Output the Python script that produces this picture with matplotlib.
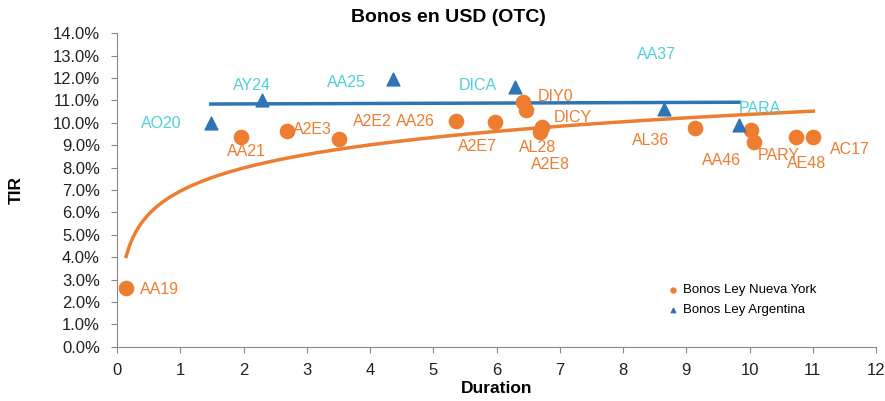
import numpy as np
import matplotlib
matplotlib.use("Agg")
import matplotlib.pyplot as plt
from matplotlib.ticker import FuncFormatter

plt.rcParams["font.family"] = ["Liberation Sans", "DejaVu Sans"]

# Bonos Ley Nueva York (duration, TIR %)
ny_names = ["AA19", "AA21", "A2E3", "A2E2", "AA26", "A2E7", "DIY0", "DICY",
            "AL28", "A2E8", "AL36", "AA46", "PARY", "AE48", "AC17"]
ny_dur = [0.14, 1.96, 2.69, 3.51, 5.36, 5.98, 6.42, 6.46, 6.72, 6.69,
          9.13, 10.02, 10.07, 10.73, 11.01]
ny_tir = [2.62, 9.38, 9.65, 9.29, 10.07, 10.05, 10.93, 10.57, 9.80, 9.61,
          9.78, 9.70, 9.15, 9.37, 9.37]

# Bonos Ley Argentina
ar_names = ["AO20", "AY24", "AA25", "DICA", "AA37", "PARA"]
ar_dur = [1.48, 2.29, 4.36, 6.29, 8.64, 9.84]
ar_tir = [10.00, 11.02, 11.95, 11.61, 10.60, 9.90]
# trend line of the Argentina bonds (start / end values)
ar_trend = [10.84, 10.92]

# label placement (data coords)
ny_label_pos = [(0.66, 2.56), (2.05, 8.71), (3.09, 9.71), (4.03, 10.08),
                (4.71, 10.08), (5.69, 8.93), (6.93, 11.17), (7.21, 10.23),
                (6.65, 8.91), (6.85, 8.12), (8.43, 9.23), (9.55, 8.31),
                (10.47, 8.56), (10.90, 8.19), (11.58, 8.82)]
ar_label_pos = [(0.69, 9.98), (2.13, 11.66), (3.63, 11.79), (5.70, 11.66),
                (8.53, 13.03), (10.17, 10.65)]

orange = "#ED7D31"
blue = "#2E75B6"
cyan = "#4FD0D8"

fig = plt.figure(figsize=(8.85, 4.01), dpi=100)
ax = fig.add_axes([0.1325, 0.1354, 0.8573, 0.7816])

ax.scatter(ny_dur, ny_tir, s=105, color=orange, marker="o", zorder=3,
           label="Bonos Ley Nueva York")
ax.scatter(ar_dur, ar_tir, s=85, color=blue, marker="^", zorder=3,
           label="Bonos Ley Argentina")

# logarithmic trend for NY bonds
b, a = np.polyfit(np.log(ny_dur), ny_tir, 1)
xs = np.linspace(min(ny_dur), max(ny_dur), 200)
ax.plot(xs, a + b * np.log(xs), color=orange, lw=2.5, zorder=2)
ax.plot([min(ar_dur), max(ar_dur)], ar_trend, color=blue, lw=2.5, zorder=2)

for n, (x, y) in zip(ny_names, ny_label_pos):
    ax.text(x, y, n, color=orange, fontsize=11.5, ha="center", va="center")
for n, (x, y) in zip(ar_names, ar_label_pos):
    ax.text(x, y, n, color=cyan, fontsize=11.5, ha="center", va="center")

ax.set_xlim(0, 12)
ax.set_ylim(0, 14)
ax.set_xticks(range(0, 13))
ax.set_yticks(range(0, 15))
ax.yaxis.set_major_formatter(FuncFormatter(lambda v, p: f"{v:.1f}%"))
ax.tick_params(labelsize=12, labelcolor="#222222", color="#888888",
               direction="out", length=4.5)
ax.tick_params(axis="y", pad=8)
ax.tick_params(axis="x", pad=7)
for s in ["top", "right"]:
    ax.spines[s].set_visible(False)
for s in ["left", "bottom"]:
    ax.spines[s].set_color("#888888")

ax.set_xlabel("Duration", fontsize=12.5, fontweight="bold")
ax.xaxis.set_label_coords(0.5, -0.1095, transform=ax.transAxes)
ax.set_ylabel("TIR", fontsize=12.5, fontweight="bold")
ax.yaxis.set_label_coords(-0.1236, 0.5, transform=ax.transAxes)
fig.text(448 / 885, 1 - 18 / 401, "Bonos en USD (OTC)", fontsize=14,
         fontweight="bold", ha="center", va="center")

ax.legend(loc="upper left", bbox_to_anchor=(668 / 885, 1 - 284 / 401),
          bbox_transform=fig.transFigure, frameon=False, fontsize=9.5,
          markerscale=0.35, handlelength=0.8, handletextpad=0.3,
          labelspacing=0.6, borderpad=0, borderaxespad=0)

fig.savefig("out.png", dpi=100)
